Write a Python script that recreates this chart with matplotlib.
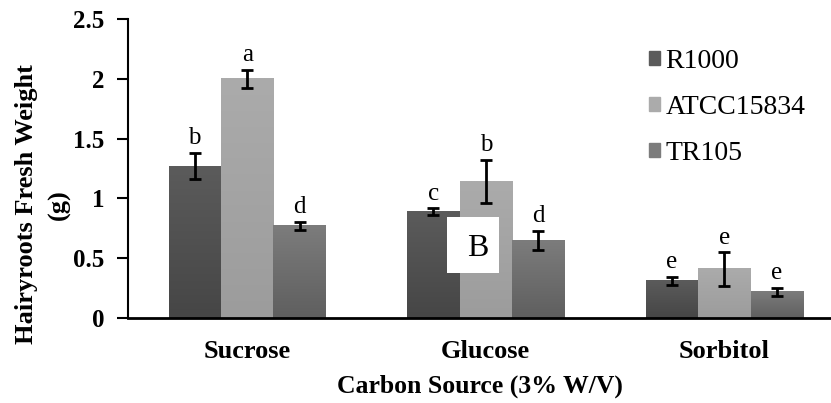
import numpy as np
import matplotlib
matplotlib.use('Agg')
import matplotlib.pyplot as plt

plt.rcParams['font.family'] = ['Liberation Serif', 'DejaVu Serif']

# Dados
fontes = ['Sucrose', 'Glucose', 'Sorbitol']
cepas = ['R1000', 'ATCC15834', 'TR105']
r1000 = [1.27, 0.89, 0.31]
atcc = [2.00, 1.14, 0.41]
tr105 = [0.77, 0.65, 0.22]
err_r1000 = [0.11, 0.027, 0.032]
err_atcc = [0.075, 0.18, 0.14]
err_tr105 = [0.035, 0.08, 0.034]
letras_r1000 = ['b', 'c', 'e']
letras_atcc = ['a', 'b', 'e']
letras_tr105 = ['d', 'd', 'e']

valores = [r1000, atcc, tr105]
erros = [err_r1000, err_atcc, err_tr105]
letras = [letras_r1000, letras_atcc, letras_tr105]
# cores (topo, base) do degradê
cores = [('#5b5b5b', '#464646'), ('#ababab', '#9c9c9c'), ('#7c7c7c', '#5f5f5f')]

fig = plt.figure(figsize=(8.31, 4.03), dpi=100)
ax = fig.add_axes([0.154, 0.211, 0.846, 0.742])

x = np.arange(len(fontes))
w = 0.22
for i in range(3):
    pos = x + (i - 1) * w
    barras = ax.bar(pos, valores[i], w, color=cores[i][0], zorder=2)
    cmap = matplotlib.colors.LinearSegmentedColormap.from_list('g', [cores[i][1], cores[i][0]])
    for b in barras:
        grad = np.linspace(0, 1, 100).reshape(-1, 1)
        ax.imshow(grad, extent=[b.get_x(), b.get_x() + b.get_width(), 0, b.get_height()],
                  origin='lower', aspect='auto', cmap=cmap, zorder=2.5)
    ax.errorbar(pos, valores[i], yerr=erros[i], fmt='none', ecolor='black',
                elinewidth=2, capsize=4, capthick=2, zorder=3)
    for p, v, e, l in zip(pos, valores[i], erros[i], letras[i]):
        ax.text(p, v + e + 0.03, l, ha='center', va='bottom', fontsize=18)

ax.set_xlim(-0.5, 2.447)
ax.set_ylim(0, 2.5)
ax.set_yticks([0, 0.5, 1, 1.5, 2, 2.5])
ax.set_yticklabels(['0', '0.5', '1', '1.5', '2', '2.5'], fontsize=18, fontweight='bold')
ax.set_xticks(x)
ax.set_xticklabels(fontes, fontsize=19, fontweight='bold')
ax.tick_params(axis='x', length=0, pad=16)
ax.tick_params(axis='y', length=8, width=1.5, pad=9)
for s in ['top', 'right']:
    ax.spines[s].set_visible(False)
ax.spines['left'].set_linewidth(1.5)
ax.spines['bottom'].set_linewidth(2)

ax.set_xlabel('Carbon Source (3% W/V)', fontsize=18.5, fontweight='bold', labelpad=8)
ax.set_ylabel('Hairyroots Fresh Weight\n(g)', fontsize=19, fontweight='bold',
              linespacing=1.55, va='center')
ax.yaxis.set_label_coords(-0.121, 0.38)

# legenda
handles = [matplotlib.patches.Patch(color=cores[i][0]) for i in range(3)]
ax.legend(handles, cepas, loc='upper left', bbox_to_anchor=(0.725, 0.936), frameon=False,
          prop={'size': 20}, handlelength=0.4, handleheight=0.4,
          handletextpad=0.2, labelspacing=0.75, borderaxespad=0)

# caixa com a letra B
fig.patches.append(matplotlib.patches.Rectangle((0.538, 0.3226), 0.0626, 0.139,
                   transform=fig.transFigure, fc='white', ec='none', zorder=10))
fig.text(0.575, 0.3846, 'B', fontsize=23, ha='center', va='center', zorder=11)

fig.savefig('out.png', dpi=100)
